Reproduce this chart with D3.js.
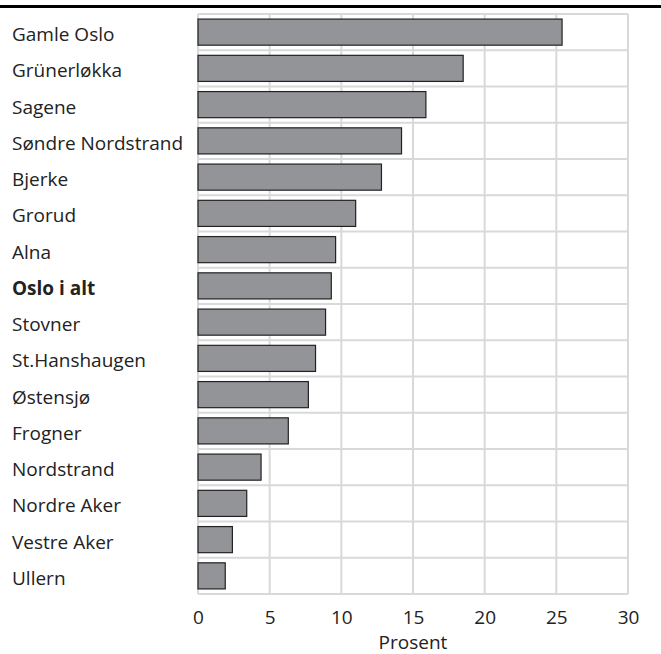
<!DOCTYPE html>
<html>
<head>
<meta charset="utf-8">
<script src="https://cdn.jsdelivr.net/npm/d3@7"></script>
<style>
  body { margin: 0; background: #fff; }
  svg text { font-family: "Open Sans", "Noto Sans", sans-serif; fill: #222; }
</style>
</head>
<body>
<div id="chart"></div>
<script>
// bydeler, sortert etter andel
var categories = ["Gamle Oslo", "Grünerløkka", "Sagene", "Søndre Nordstrand", "Bjerke",
  "Grorud", "Alna", "Oslo i alt", "Stovner", "St.Hanshaugen", "Østensjø", "Frogner",
  "Nordstrand", "Nordre Aker", "Vestre Aker", "Ullern"];
var values = [25.4, 18.5, 15.9, 14.2, 12.8, 11.0, 9.6, 9.3, 8.9, 8.2, 7.7, 6.3, 4.4, 3.4, 2.4, 1.9];
var xTicks = [0, 5, 10, 15, 20, 25, 30];
var xTitle = "Prosent";

var width = 661, height = 654;
var data = categories.map((c, i) => ({name: c, value: values[i]}));

var svg = d3.select("#chart").append("svg")
    .attr("width", width)
    .attr("height", height);

var x = d3.scaleLinear()
    .domain([0, 30])
    .range([198, 628]);
var y = d3.scaleBand()
    .domain(categories)
    .range([14, 594])
    .paddingInner(0.28)
    .paddingOuter(0.14);

// top rule
svg.append("line")
    .attr("x1", 0).attr("x2", width)
    .attr("y1", 6.5).attr("y2", 6.5)
    .attr("stroke", "#000")
    .attr("stroke-width", 3);

// grid
var grid = svg.append("g").attr("stroke", "#d9d9d9").attr("stroke-width", 2);
grid.selectAll("line.v")
    .data(xTicks)
    .join("line")
    .attr("class", "v")
    .attr("x1", d => x(d)).attr("x2", d => x(d))
    .attr("y1", 14).attr("y2", 594);
var bounds = d3.range(categories.length + 1).map(i => 14 + i * (580 / categories.length));
grid.selectAll("line.h")
    .data(bounds)
    .join("line")
    .attr("class", "h")
    .attr("x1", x(0)).attr("x2", x(30))
    .attr("y1", d => d).attr("y2", d => d);

// bars
svg.append("g")
  .selectAll("rect")
  .data(data)
  .join("rect")
    .attr("x", x(0))
    .attr("y", d => y(d.name))
    .attr("width", d => x(d.value) - x(0))
    .attr("height", y.bandwidth())
    .attr("fill", "#939498")
    .attr("stroke", "#222")
    .attr("stroke-width", 1.2);

// category labels
svg.append("g")
  .selectAll("text")
  .data(data)
  .join("text")
    .attr("x", 12)
    .attr("y", d => y(d.name) + y.bandwidth() / 2 + 9)
    .style("font-size", "19px")
    .style("font-weight", d => d.name == "Oslo i alt" ? "bold" : "normal")
    .text(d => d.name);

// x axis
var xAxis = d3.axisBottom(x).tickValues(xTicks).tickSize(0).tickPadding(0);
var ax = svg.append("g")
    .attr("transform", "translate(0,624)")
    .call(xAxis);
ax.select(".domain").remove();
ax.selectAll("text")
    .attr("dy", null)
    .attr("y", 0)
    .style("font-size", "19px")
    .attr("fill", "#222");

svg.append("text")
    .attr("x", x(15))
    .attr("y", 649)
    .attr("text-anchor", "middle")
    .style("font-size", "19px")
    .text(xTitle);
</script>
</body>
</html>
